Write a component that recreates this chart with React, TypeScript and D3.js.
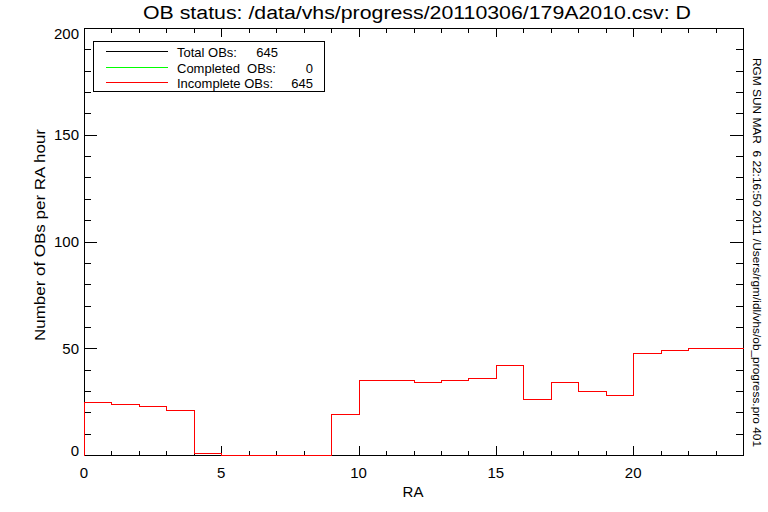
import React from "react";
import * as d3 from "d3";

const title = "OB status: /data/vhs/progress/20110306/179A2010.csv: D";
const sideNote = "RGM SUN MAR  6 22:16:50 2011 /Users/rgm/idl/vhs/ob_progress.pro 401";
const xLabel = "RA";
const yLabel = "Number of OBs per RA hour";
// OBs per RA hour bin (0-1, 1-2, ..., 23-24)
const incomplete = [25, 24, 23, 21, 1, 0, 0, 0, 0, 19, 35, 35, 34, 35, 36, 42, 26, 34, 30, 28, 48, 49, 50, 50];
const completed = incomplete.map(() => 0);
const total = incomplete.map((v, i) => v + completed[i]);
const xMajor = [0, 5, 10, 15, 20];
const yMajor = [0, 50, 100, 150, 200];
const legendRows = [
  { label: "Total OBs:", value: "645", color: "#000000", valueEnd: 278 },
  { label: "Completed  OBs:", value: "0", color: "#00ff00", valueEnd: 313 },
  { label: "Incomplete OBs:", value: "645", color: "#ff0000", valueEnd: 313 },
];

const W = 768, H = 512;
const L = 84, R = 743, T = 28, B = 455;
const FONT = "'Liberation Sans', Arial, sans-serif";

export default function App() {
  const x = d3.scaleLinear().domain([0, 24]).range([L, R]);
  const y = d3.scaleLinear().domain([0, 200]).range([B, T]);
  const px = (v: number) => Math.round(x(v)) + 0.5;
  const py = (v: number) => Math.round(y(v)) + 0.5;

  const stepPts = (vals: number[]): [number, number][] => {
    const p: [number, number][] = [[0, 0]];
    vals.forEach((v, i) => p.push([i, v]));
    p.push([vals.length, vals[vals.length - 1]]);
    return p;
  };
  const line = d3
    .line<[number, number]>()
    .x((d) => px(d[0]))
    .y((d) => py(d[1]))
    .curve(d3.curveStepAfter);

  const xMinor = d3.range(0, 25, 1);
  const yMinor = d3.range(0, 201, 10);

  return (
    <svg width={W} height={H} style={{ display: "block", position: "absolute", left: 0, top: 0, background: "#fff" }} fontFamily={FONT}>
      <rect x={0} y={0} width={W} height={H} fill="#fff" />
      {/* title */}
      <text x={417} y={19} fontSize={18} textAnchor="middle" textLength={548} lengthAdjust="spacingAndGlyphs" fill="#000">
        {title}
      </text>
      {/* ticks */}
      <g stroke="#000" strokeWidth={1} shapeRendering="crispEdges">
        {xMinor.map((v) => {
          const len = v % 5 === 0 ? 9 : 4.5;
          return (
            <g key={"xt" + v}>
              <line x1={px(v)} x2={px(v)} y1={B} y2={B - len} />
              <line x1={px(v)} x2={px(v)} y1={T} y2={T + len} />
            </g>
          );
        })}
        {yMinor.map((v) => {
          const len = v % 50 === 0 ? 13 : 7;
          return (
            <g key={"yt" + v}>
              <line x1={L} x2={L + len} y1={py(v)} y2={py(v)} />
              <line x1={R} x2={R - len} y1={py(v)} y2={py(v)} />
            </g>
          );
        })}
      </g>
      {/* frame */}
      <rect x={L + 0.5} y={T + 0.5} width={R - L} height={B - T} fill="none" stroke="#000" strokeWidth={1} shapeRendering="crispEdges" />
      {/* histograms */}
      <path d={line(stepPts(total)) || ""} fill="none" stroke="#000" strokeWidth={1} shapeRendering="crispEdges" />
      <path d={line(stepPts(incomplete)) || ""} fill="none" stroke="#ff0000" strokeWidth={1} shapeRendering="crispEdges" />
      {/* x tick labels */}
      {xMajor.map((v) => (
        <text key={"xl" + v} x={x(v)} y={478} fontSize={15} textAnchor="middle" fill="#000">
          {v}
        </text>
      ))}
      {/* y tick labels */}
      {yMajor.map((v) => {
        const cy = Math.min(Math.max(y(v), 33), 450.5);
        return (
          <text key={"yl" + v} x={79} y={cy + 5.5} fontSize={15} textAnchor="end" fill="#000">
            {v}
          </text>
        );
      })}
      {/* axis titles */}
      <text x={413} y={497} fontSize={15} textAnchor="middle" fill="#000">
        {xLabel}
      </text>
      <text transform="translate(45,235) rotate(-90)" fontSize={15} textAnchor="middle" fill="#000" textLength={212} lengthAdjust="spacingAndGlyphs">
        {yLabel}
      </text>
      {/* side note */}
      <text transform="translate(753,58) rotate(90)" fontSize={11} fill="#000" textLength={389} lengthAdjust="spacingAndGlyphs" xmlSpace="preserve" style={{ whiteSpace: "pre" }}>
        {sideNote}
      </text>
      {/* legend */}
      <rect x={93.5} y={41.5} width={231} height={50} fill="#fff" stroke="#000" strokeWidth={1} shapeRendering="crispEdges" />
      {legendRows.map((r, i) => {
        const ly = Math.round(51 + i * 15.5) + 0.5;
        return (
          <g key={"lg" + i}>
            <line x1={106} x2={168} y1={ly} y2={ly} stroke={r.color} strokeWidth={1} shapeRendering="crispEdges" />
            <text x={177} y={ly + 5} fontSize={13} fill="#000" xmlSpace="preserve" style={{ whiteSpace: "pre" }}>
              {r.label}
            </text>
            <text x={r.valueEnd} y={ly + 5} fontSize={13} textAnchor="end" fill="#000">
              {r.value}
            </text>
          </g>
        );
      })}
    </svg>
  );
}
